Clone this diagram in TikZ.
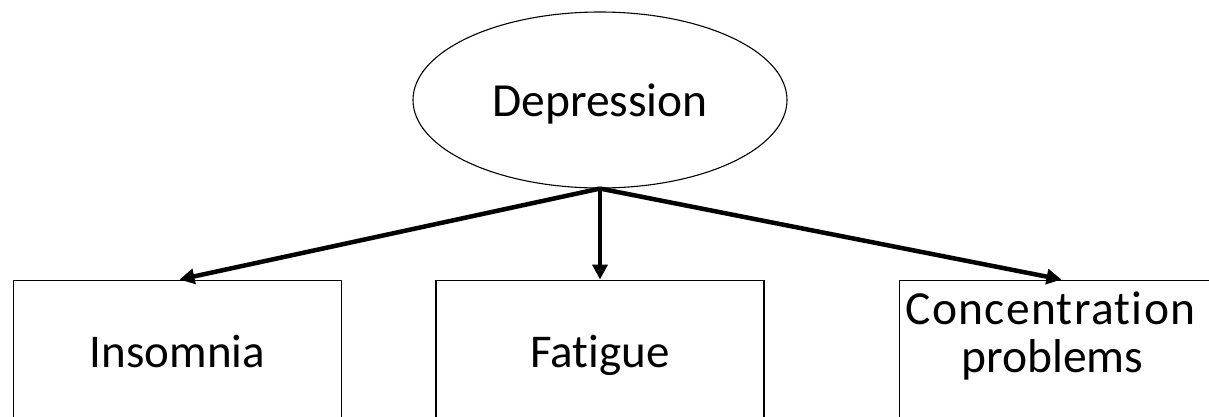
\documentclass[tikz,border=0pt]{standalone}
\usepackage{fontspec}
\setmainfont{Carlito}[Ligatures=NoCommon]
\usetikzlibrary{shapes.geometric,arrows.meta,positioning}

\begin{document}
\begin{tikzpicture}[
    x=1pt, y=-1pt,
    root/.style={ellipse, draw, line width=1.1pt, inner sep=0pt,
        minimum width=374pt, minimum height=176pt, text depth=0pt,
        font=\fontsize{47.5}{52}\selectfont},
    sym/.style={rectangle, draw, line width=1.5pt, inner sep=0pt,
        minimum width=328pt, minimum height=142pt, align=center,
        text depth=0pt, font=\fontsize{47}{47}\selectfont},
    link/.style={line width=4.5pt, -{Triangle[length=15pt,width=15pt]}}
]
    \clip (0,0) rectangle (1209,416);

    % Root
    \node[root] (depr) at (600,100) {Depression};

    % Symptoms
    \node[sym, below=91pt of depr] (fatigue) {Fatigue};
    \node[sym, left=93pt of fatigue] (insomnia) {Insomnia};
    \node[sym, right=134pt of fatigue, text depth=38pt,
        font=\fontsize{47.5}{48}\selectfont]
        (conc) {\hspace*{-26pt}{\addfontfeature{LetterSpace=2.8}Concentration}\\
                \hspace*{-22pt}problems};

    % Edges
    \draw[link] (depr.south) -- ([xshift=2pt]insomnia.north);
    \draw[link] (depr.south) -- (fatigue.north);
    \draw[link] (depr.south) -- ([xshift=-2pt]conc.north);
\end{tikzpicture}
\end{document}
